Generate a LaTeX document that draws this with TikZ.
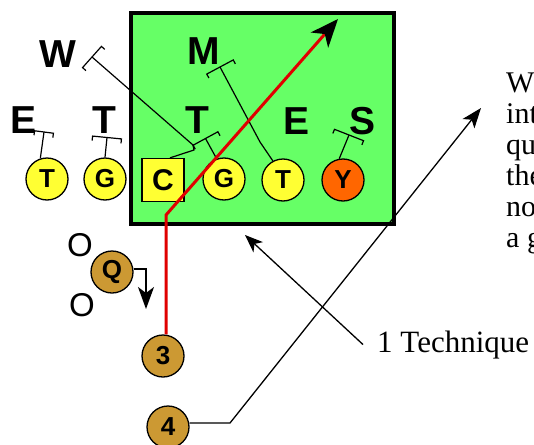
\documentclass[tikz,border=0pt]{standalone}
\usepackage{fontspec}
\setmainfont{Liberation Serif}
\newfontfamily\hv{Liberation Sans}
\usetikzlibrary{arrows.meta,calc}
\definecolor{fieldgreen}{RGB}{102,255,102}
\definecolor{offyellow}{RGB}{255,255,51}
\definecolor{deforange}{RGB}{255,102,0}
\definecolor{backgold}{RGB}{204,153,51}
\definecolor{runred}{RGB}{224,0,0}
\newcommand\blockbar[3]{\draw[blockline,shift={(#1)},rotate=#2] (-4.5,-#3) -- (0,-#3) -- (0,#3) -- (-4.5,#3);}
\begin{document}
\begin{tikzpicture}[x=1pt,y=-1pt,
  player/.style={circle,draw,line width=1.3pt,minimum size=42pt,inner sep=0pt,
    font=\hv\bfseries\fontsize{26}{26}\selectfont},
  lineman/.style={player,fill=offyellow},
  back/.style={player,fill=backgold},
  centerbox/.style={draw,line width=1.3pt,fill=offyellow,minimum width=42pt,minimum height=43pt,
    inner sep=0pt,font=\hv\bfseries\fontsize{30}{30}\selectfont},
  defender/.style={inner sep=0pt,font=\hv\bfseries\fontsize{39}{39}\selectfont},
  ring/.style={inner sep=0pt,font=\hv\fontsize{33}{33}\selectfont},
  blockline/.style={line width=1.2pt},
  thinarrow/.style={line width=1.3pt},
  redrun/.style={runred,line width=3pt,-{Stealth[length=28pt,width=23pt,inset=8pt,color=black]}},
  bodytext/.style={inner sep=0pt,font=\fontsize{30}{31}\selectfont}]
\useasboundingbox (0,0) rectangle (534,444);
% field
\draw[line width=4pt,fill=fieldgreen] (131,13) rectangle (394,224);
% defenders
\node[defender] (dW) at (58,54) {W};
\node[defender] (dM) at (204,51) {M};
\node[defender] (dE1) at (24,120) {E};
\node[defender] (dT1) at (104,120) {T};
\node[defender] (dT2) at (197,120) {T};
\node[defender] (dE2) at (297,121) {E};
\node[defender] (dS) at (362,121) {S};
% offense
\node[lineman] (tT) at (47,179) {T};
\node[lineman] (gG) at (105,179) {G};
\node[centerbox] (C) at (163,180) {C};
\node[lineman] (gG2) at (224,179) {G};
\node[lineman] (tT2) at (283,180) {T};
\node[player,fill=deforange] (yY) at (343,180) {Y};
\node[back] (Q) at (112,272) {Q};
\node[back] (n3) at (163,356) {3};
\node[back] (n4) at (168,427) {4};
\node[ring] (o1) at (80,245) {O};
\node[ring] (o2) at (82,305) {O};
% block coordinates
\coordinate (bE) at (44,132);
\coordinate (bT1) at (107,137.5);
\coordinate (bW) at (92,57);
\coordinate (bT2) at (205.5,138.5);
\coordinate (bM) at (220,67);
\coordinate (bS) at (349,135);
\coordinate (ck1) at (194,150);
\coordinate (ck2) at (193,145);
\coordinate (mk) at (260,142);
% blocks
\draw[blockline] (tT.108) -- (bE);
\blockbar{bE}{82.6}{9.5}
\draw[blockline] (gG.90) -- (bT1);
\blockbar{bT1}{84.4}{14.5}
\draw[blockline] ([xshift=7pt]C.north) -- (ck1) -- (ck2) -- (bW);
\blockbar{bW}{138.3}{14.2}
\draw[blockline] (gG2.110) -- (bT2);
\blockbar{bT2}{118.5}{14.1}
\draw[blockline] (tT2.118) -- (mk) -- (bM);
\blockbar{bM}{118.1}{15}
\draw[blockline] (yY.100) -- (bS);
\blockbar{bS}{68.6}{15.6}
% quarterback drop
\coordinate (qturn) at (146,269);
\coordinate (qtip) at (146,309);
\draw[thinarrow,-{Stealth[length=22pt,width=16pt,inset=6pt]}] ([yshift=3pt]Q.east) -- (qturn) -- (qtip);
% run
\coordinate (redbend) at (166,215);
\coordinate (redtip) at (338,19);
\draw[redrun] ([xshift=3pt]n3.north) -- (redbend) -- (redtip);
% 4 pointer
\coordinate (fturn) at (230,423);
\coordinate (ftip) at (481,108);
\draw[thinarrow,-{Stealth[length=20pt,width=15pt,inset=5pt]}] ([yshift=4pt]n4.east) -- (fturn) -- (ftip);
% technique
\node[bodytext,font=\fontsize{31}{31}\selectfont,inner xsep=14pt,anchor=base west] (tech) at (363,352) {1 Technique};
\coordinate (techtip) at (245,235);
\draw[thinarrow,-{Stealth[length=18pt,width=14pt,inset=5pt]}] (tech.west) -- (techtip);
% right text
\foreach \t [count=\i] in {W,int,qu,the,no,a g}
  \node[bodytext,anchor=base west] (txt\i) at (506,{92.5+30.9*(\i-1)}) {\t};
\end{tikzpicture}
\end{document}
